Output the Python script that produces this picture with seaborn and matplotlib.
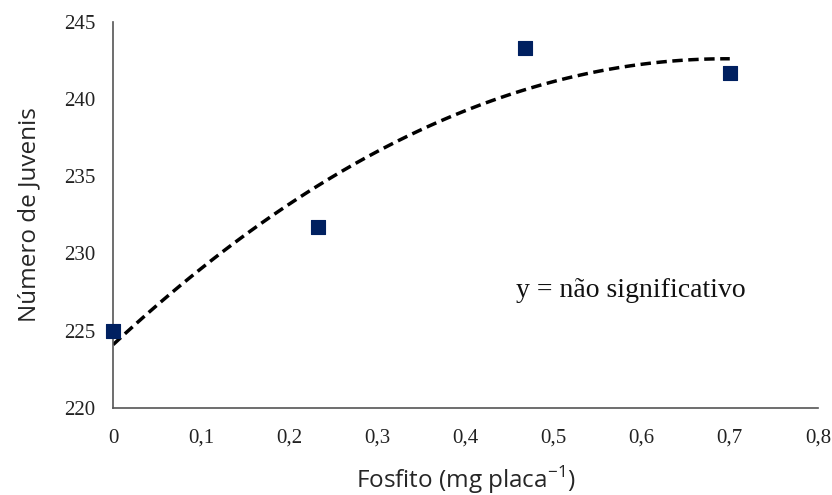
import numpy as np
import pandas as pd
import matplotlib
matplotlib.use("Agg")
import matplotlib.pyplot as plt
import seaborn as sns

# dados
fosfito = [0.0, 0.233, 0.467, 0.7]
juvenis = [225.0, 231.7, 243.3, 241.7]
x_ticks = [0, 0.1, 0.2, 0.3, 0.4, 0.5, 0.6, 0.7, 0.8]
y_ticks = [220, 225, 230, 235, 240, 245]

df = pd.DataFrame({"fosfito": fosfito, "juvenis": juvenis})

sns.set_style("white")
fig = plt.figure(figsize=(8.32, 4.95), dpi=100)
ax = fig.add_axes([0.136, 0.176, 0.847, 0.780])

# linha de tendência polinomial (ordem 2), como no Excel
sns.regplot(data=df, x="fosfito", y="juvenis", order=2, ci=None, truncate=True,
            scatter=False, ax=ax,
            line_kws=dict(color="black", linestyle=(0, (3, 1.6)), linewidth=2.5))
sns.scatterplot(data=df, x="fosfito", y="juvenis", marker="s", s=100,
                color="#002060", edgecolor="#002060", ax=ax, zorder=5, clip_on=False)

ax.set_xlim(0, 0.8)
ax.set_ylim(220, 245)
ax.set_xticks(x_ticks)
ax.set_xticklabels([("%g" % t).replace(".", ",") for t in x_ticks],
                   family="Liberation Serif", fontsize=15)
ax.set_yticks(y_ticks)
ax.set_yticklabels([str(t) for t in y_ticks], family="Liberation Serif", fontsize=15)
ax.tick_params(axis="x", length=0, pad=15, colors="#222222")
ax.tick_params(axis="y", length=0, pad=13, colors="#222222")

ax.set_xlabel("Fosfito (mg placa$^{\\mathregular{-1}}$)", family="Open Sans",
              fontsize=17.5, labelpad=12)
ax.set_ylabel("Número de Juvenis", family="Open Sans", fontsize=17.5, labelpad=16)

for side in ["top", "right"]:
    ax.spines[side].set_visible(False)
for side in ["left", "bottom"]:
    ax.spines[side].set_color("#555555")
    ax.spines[side].set_linewidth(1.2)

ax.text(0.588, 227.6, "y = não significativo", family="Liberation Serif",
        fontsize=20, ha="center", va="center", color="#111111")

fig.savefig("out.png", dpi=100)
